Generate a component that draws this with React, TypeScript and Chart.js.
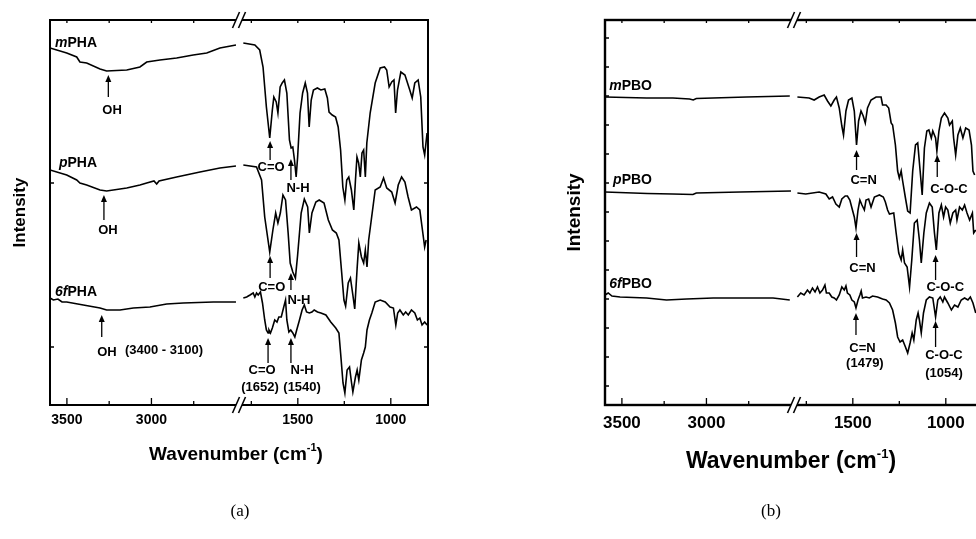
import React, { useEffect, useRef } from "react";
import { Chart, LineController, LineElement, PointElement, LinearScale } from "chart.js";

type Pt = [number, number | null];

// ---------------- axis description (wavenumber, cm-1) ----------------
const W_LOW: [number, number] = [3600, 2500];   // left segment of the broken axis
const W_HIGH: [number, number] = [1800, 800];   // right segment of the broken axis
const SPLIT: [number, number] = [0.492, 0.508]; // share of the axis length where the break sits
const GAP: Pt = [2150, null];
const X_MAJOR = [3500, 3000, 1500, 1000];
const X_MINOR = [3250, 2750, 1750, 1250];
const A_Y_TICKS = [58, 222];
const B_Y_TICKS = [19, 48, 77, 106, 135, 164, 193, 222, 251, 280, 309, 338, 367];

// ---------------- panel (a): PHA spectra (intensity, a.u.) ----------------
const mPHA_LOW: Pt[] = [
  [3600, 357], [3501, 352], [3442, 348], [3423, 343], [3383, 342], [3304, 336], [3265, 334],
  [3146, 335], [3068, 338], [3028, 343], [2950, 345], [2851, 347], [2753, 350], [2673, 352],
  [2595, 357], [2500, 360],
];
const mPHA_HIGH: Pt[] = [
  [1793, 362], [1731, 360], [1705, 355], [1687, 338], [1669, 298], [1651, 267], [1637, 295],
  [1629, 308], [1616, 303], [1607, 292], [1595, 318], [1584, 322], [1572, 325], [1559, 312],
  [1545, 265], [1536, 257], [1527, 258], [1518, 245], [1509, 228], [1501, 248], [1488, 292],
  [1474, 312], [1460, 322], [1448, 312], [1439, 278], [1428, 305], [1416, 315], [1395, 317],
  [1376, 315], [1355, 316], [1341, 307], [1332, 293], [1315, 290], [1297, 288], [1283, 278],
  [1270, 255], [1258, 218], [1247, 205], [1237, 225], [1226, 228], [1212, 215], [1199, 195],
  [1190, 225], [1182, 248], [1173, 242], [1164, 228], [1155, 252], [1146, 255], [1137, 228],
  [1129, 262], [1111, 292], [1084, 322], [1057, 337], [1034, 338], [1022, 335], [1009, 318],
  [995, 323], [983, 325], [974, 292], [964, 315], [946, 333], [924, 330], [898, 315], [885, 307],
  [871, 322], [853, 325], [839, 308], [827, 258], [818, 250], [805, 272],
];
const pPHA_LOW: Pt[] = [
  [3600, 235], [3501, 230], [3442, 225], [3423, 222], [3383, 220], [3304, 215], [3265, 214],
  [3146, 217], [3068, 220], [3028, 222], [2985, 224], [2969, 221], [2955, 224], [2851, 228],
  [2713, 233], [2595, 237], [2500, 239],
];
const pPHA_HIGH: Pt[] = [
  [1793, 240], [1722, 238], [1695, 225], [1678, 188], [1651, 153], [1634, 175], [1619, 192],
  [1607, 182], [1594, 192], [1580, 210], [1566, 205], [1552, 172], [1541, 142], [1527, 133],
  [1513, 127], [1501, 150], [1482, 192], [1465, 206], [1447, 198], [1438, 172], [1424, 192],
  [1403, 203], [1385, 205], [1359, 202], [1336, 185], [1314, 175], [1293, 172], [1279, 165],
  [1264, 132], [1252, 105], [1243, 99], [1229, 122], [1217, 127], [1204, 110], [1194, 96],
  [1181, 137], [1172, 162], [1158, 148], [1146, 142], [1137, 155], [1128, 138], [1119, 165],
  [1105, 185], [1084, 215], [1057, 218], [1039, 227], [1022, 217], [995, 213], [977, 202],
  [960, 220], [942, 228], [924, 223], [907, 208], [889, 195], [862, 198], [844, 195], [832, 178],
  [818, 158], [810, 165],
];
const f6PHA_LOW: Pt[] = [
  [3600, 107], [3580, 105], [3553, 106], [3529, 103], [3501, 103], [3403, 100], [3304, 97],
  [3265, 95], [3186, 95], [3107, 97], [3009, 98], [2910, 101], [2812, 102], [2634, 103], [2500, 103],
];
const f6PHA_HIGH: Pt[] = [
  [1793, 107], [1775, 108], [1757, 110], [1740, 112], [1731, 108], [1722, 112], [1713, 110],
  [1701, 113], [1690, 102], [1678, 85], [1669, 75], [1660, 72], [1655, 75], [1647, 72], [1637, 77],
  [1624, 85], [1612, 83], [1602, 88], [1589, 88], [1577, 97], [1566, 105], [1559, 85], [1548, 73],
  [1538, 75], [1527, 72], [1516, 68], [1506, 75], [1491, 85], [1477, 95], [1465, 100], [1453, 93],
  [1438, 92], [1424, 93], [1412, 95], [1394, 93], [1376, 92], [1349, 90], [1323, 83], [1296, 77],
  [1279, 72], [1270, 52], [1257, 22], [1247, 12], [1235, 35], [1222, 38], [1211, 22], [1204, 13],
  [1190, 28], [1181, 35], [1172, 25], [1158, 45], [1146, 52], [1137, 58], [1128, 75], [1115, 85],
  [1102, 92], [1084, 103], [1057, 105], [1030, 103], [1004, 98], [986, 97], [973, 80], [963, 92],
  [951, 95], [933, 90], [920, 93], [906, 90], [889, 95], [871, 92], [857, 85], [844, 87], [832, 80],
  [818, 83], [805, 80],
];

// ---------------- panel (b): PBO spectra (intensity, a.u.) ----------------
const mPBO_LOW: Pt[] = [
  [3600, 308], [3354, 307], [3198, 307], [3100, 306], [3078, 305], [3060, 306.5], [2763, 308], [2507, 309],
];
const mPBO_HIGH: Pt[] = [
  [1798, 308], [1735, 307], [1708, 305], [1681, 308], [1654, 310], [1636, 304], [1618, 299],
  [1600, 305], [1588, 308], [1573, 297], [1559, 279], [1550, 270], [1537, 294], [1523, 305],
  [1505, 307], [1492, 294], [1480, 260], [1469, 284], [1456, 294], [1444, 289], [1433, 282],
  [1421, 297], [1402, 305], [1375, 308], [1348, 308], [1340, 300], [1321, 300], [1307, 297],
  [1294, 282], [1286, 280], [1271, 260], [1259, 234], [1250, 227], [1240, 234], [1232, 224],
  [1217, 207], [1205, 194], [1192, 192], [1178, 234], [1163, 260], [1151, 262], [1138, 234],
  [1127, 210], [1115, 257], [1102, 274], [1091, 275], [1078, 267], [1070, 274], [1055, 267],
  [1048, 254], [1037, 274], [1024, 287], [1007, 292], [989, 287], [980, 280], [965, 284],
  [958, 267], [947, 250], [935, 270], [922, 277], [908, 267], [893, 277], [875, 275], [862, 260],
  [854, 234], [845, 230],
];
const pPBO_LOW: Pt[] = [
  [3600, 213], [3350, 211.5], [3200, 211], [3080, 210.5], [3060, 212], [2800, 213], [2500, 214],
];
const pPBO_HIGH: Pt[] = [
  [1798, 212], [1753, 211], [1681, 213], [1645, 211], [1627, 206], [1609, 208], [1591, 201],
  [1573, 198], [1559, 206], [1541, 209], [1529, 209], [1516, 205], [1502, 195], [1492, 188],
  [1483, 177], [1472, 195], [1462, 205], [1451, 200], [1438, 195], [1429, 205], [1415, 206],
  [1402, 198], [1384, 208], [1357, 210], [1336, 208], [1325, 203], [1313, 195], [1303, 191],
  [1280, 192], [1267, 172], [1253, 152], [1240, 145], [1232, 155], [1222, 142], [1208, 138],
  [1195, 118], [1183, 145], [1169, 182], [1154, 185], [1142, 165], [1132, 142], [1118, 172],
  [1105, 192], [1088, 202], [1073, 198], [1061, 172], [1051, 155], [1037, 192], [1024, 200],
  [1012, 188], [1001, 198], [989, 195], [976, 182], [962, 192], [947, 195], [940, 185], [926, 198],
  [911, 195], [899, 200], [886, 192], [872, 185], [857, 192], [850, 172], [839, 175],
];
const f6PBO_LOW: Pt[] = [
  [3600, 110], [3581, 112], [3559, 109], [3511, 108], [3354, 107], [3236, 105], [3117, 106],
  [2960, 107], [2763, 107], [2606, 107], [2507, 105],
];
const f6PBO_HIGH: Pt[] = [
  [1798, 108], [1780, 112], [1762, 110], [1744, 115], [1731, 112], [1717, 117], [1703, 113],
  [1690, 118], [1677, 112], [1663, 115], [1650, 120], [1642, 112], [1627, 112], [1613, 108],
  [1600, 107], [1588, 105], [1573, 110], [1559, 118], [1546, 115], [1537, 119], [1529, 112],
  [1516, 110], [1505, 105], [1492, 103], [1483, 97], [1472, 105], [1462, 110], [1455, 114],
  [1448, 107], [1429, 108], [1411, 107], [1394, 109], [1367, 108], [1340, 106], [1321, 105],
  [1303, 102], [1286, 95], [1271, 82], [1259, 68], [1246, 63], [1232, 65], [1217, 58], [1205, 52],
  [1192, 62], [1181, 72], [1172, 65], [1159, 85], [1149, 92], [1142, 85], [1132, 72], [1120, 92],
  [1105, 105], [1088, 108], [1070, 107], [1055, 88], [1043, 105], [1030, 108], [1016, 103],
  [1007, 108], [989, 102], [970, 95], [953, 100], [935, 98], [917, 105], [899, 107], [881, 105],
  [868, 108], [854, 102], [839, 92],
];

// ---------------- annotations ----------------
type Arrow = { w: number; from: number; to: number };
type Note = { text: string; w: number; v: number };
type Label = { parts: [string, boolean][]; v: number };

const A_LABELS: Label[] = [
  { parts: [["m", true], ["PHA", false]], v: 362 },
  { parts: [["p", true], ["PHA", false]], v: 242 },
  { parts: [["6f", true], ["PHA", false]], v: 113 },
];
const A_ARROWS: Arrow[] = [
  { w: 3255, from: 308, to: 330 }, { w: 3281, from: 185, to: 210 }, { w: 3294, from: 68, to: 90 },
  { w: 1649, from: 245, to: 264 }, { w: 1537, from: 225, to: 246 },
  { w: 1649, from: 127, to: 149 }, { w: 1537, from: 115, to: 132 },
  { w: 1660, from: 42, to: 67 }, { w: 1537, from: 42, to: 67 },
];
const A_NOTES: Note[] = [
  { text: "OH", w: 3233, v: 295 }, { text: "OH", w: 3257, v: 175 }, { text: "OH", w: 3263, v: 53 },
  { text: "(3400 - 3100)", w: 2926, v: 55 },
  { text: "C=O", w: 1644, v: 238 }, { text: "N-H", w: 1499, v: 217 },
  { text: "C=O", w: 1640, v: 118 }, { text: "N-H", w: 1494, v: 105 },
  { text: "C=O", w: 1692, v: 35 }, { text: "(1652)", w: 1703, v: 18 },
  { text: "N-H", w: 1477, v: 35 }, { text: "(1540)", w: 1477, v: 18 },
];
const B_LABELS: Label[] = [
  { parts: [["m", true], ["PBO", false]], v: 319 },
  { parts: [["p", true], ["PBO", false]], v: 225 },
  { parts: [["6f", true], ["PBO", false]], v: 121 },
];
const B_ARROWS: Arrow[] = [
  { w: 1480, from: 235, to: 255 }, { w: 1046, from: 228, to: 250 },
  { w: 1480, from: 148, to: 172 }, { w: 1055, from: 125, to: 150 },
  { w: 1483, from: 70, to: 92 }, { w: 1055, from: 58, to: 84 },
];
const B_NOTES: Note[] = [
  { text: "C=N", w: 1442, v: 225 }, { text: "C-O-C", w: 983, v: 216 },
  { text: "C=N", w: 1448, v: 137 }, { text: "C-O-C", w: 1003, v: 118 },
  { text: "C=N", w: 1448, v: 57 }, { text: "(1479)", w: 1435, v: 42 },
  { text: "C-O-C", w: 1010, v: 50 }, { text: "(1054)", w: 1010, v: 32 },
];
const LABEL_W = 3322; // right edge of the series names

// ---------------- broken wavenumber scale ----------------
class BrokenWavenumberScale extends LinearScale {
  static id = "brokenWavenumber";
  static defaults = {};
  getPixelForValue(value: number) {
    const v = Number(value);
    let d: number;
    if (v >= W_LOW[1]) d = ((W_LOW[0] - v) / (W_LOW[0] - W_LOW[1])) * SPLIT[0];
    else if (v <= W_HIGH[0]) d = SPLIT[1] + ((W_HIGH[0] - v) / (W_HIGH[0] - W_HIGH[1])) * (1 - SPLIT[1]);
    else d = SPLIT[0] + ((W_LOW[1] - v) / (W_LOW[1] - W_HIGH[0])) * (SPLIT[1] - SPLIT[0]);
    return (this as any).getPixelForDecimal(d);
  }
  getValueForPixel(pixel: number) {
    const d = (this as any).getDecimalForPixel(pixel);
    if (d <= SPLIT[0]) return W_LOW[0] - (d / SPLIT[0]) * (W_LOW[0] - W_LOW[1]);
    if (d >= SPLIT[1]) return W_HIGH[0] - ((d - SPLIT[1]) / (1 - SPLIT[1])) * (W_HIGH[0] - W_HIGH[1]);
    return W_LOW[1] - ((d - SPLIT[0]) / (SPLIT[1] - SPLIT[0])) * (W_LOW[1] - W_HIGH[0]);
  }
}

Chart.register(LineController, LineElement, PointElement, LinearScale, BrokenWavenumberScale);

const FAMILY = '"Liberation Sans", Arial, sans-serif';

type PanelCfg = {
  series: Pt[][];
  labels: Label[];
  arrows: Arrow[];
  notes: Note[];
  yTicks: number[];
  canvasLeft: number;
  canvasWidth: number;
  padding: { left: number; top: number; right: number; bottom: number };
  tickFont: number;
  tickY: number;
  titleFont: number;
  titleY: number;
  yTitleFont: number;
  yTitleX: number;
  letter: string;
  letterX: number;
  noteFont: number;
  labelFont: number;
  frameWidth: number;
  lineWidth: number;
};

function drawArrow(ctx: CanvasRenderingContext2D, x: number, yFrom: number, yTo: number) {
  const head = 7;
  ctx.beginPath();
  ctx.lineWidth = 1.3;
  ctx.moveTo(x, yFrom);
  ctx.lineTo(x, yTo + head - 1);
  ctx.stroke();
  ctx.beginPath();
  ctx.moveTo(x, yTo);
  ctx.lineTo(x - 3, yTo + head);
  ctx.lineTo(x + 3, yTo + head);
  ctx.closePath();
  ctx.fill();
}

function makeDecor(cfg: PanelCfg) {
  return {
    id: "ftirDecor",
    afterDraw(chart: any) {
      const ctx: CanvasRenderingContext2D = chart.ctx;
      const xs = chart.scales.x;
      const ys = chart.scales.y;
      const { left, right, top, bottom } = chart.chartArea;
      ctx.save();
      ctx.strokeStyle = "#000";
      ctx.fillStyle = "#000";

      // frame
      ctx.lineWidth = cfg.frameWidth;
      ctx.strokeRect(left, top, right - left, bottom - top);

      // x ticks (inward)
      ctx.lineWidth = 1.3;
      const tick = (w: number, lenB: number, lenT: number) => {
        const x = xs.getPixelForValue(w);
        ctx.beginPath();
        ctx.moveTo(x, bottom);
        ctx.lineTo(x, bottom - lenB);
        ctx.moveTo(x, top);
        ctx.lineTo(x, top + lenT);
        ctx.stroke();
      };
      X_MAJOR.forEach((w) => tick(w, 7, 3));
      X_MINOR.forEach((w) => tick(w, 4, 3));
      // y ticks (inward)
      cfg.yTicks.forEach((v) => {
        const y = ys.getPixelForValue(v);
        ctx.beginPath();
        ctx.moveTo(left, y);
        ctx.lineTo(left + 4, y);
        ctx.moveTo(right, y);
        ctx.lineTo(right - 4, y);
        ctx.stroke();
      });

      // axis break marks
      const bx = xs.getPixelForValue(GAP[0]);
      [top, bottom].forEach((y) => {
        ctx.fillStyle = "#fff";
        ctx.fillRect(bx - 3, y - 2, 6, 4);
        ctx.fillStyle = "#000";
        ctx.lineWidth = 1.6;
        [-3, 3].forEach((o) => {
          ctx.beginPath();
          ctx.moveTo(bx + o - 3.5, y + 8);
          ctx.lineTo(bx + o + 3.5, y - 8);
          ctx.stroke();
        });
      });

      // tick labels
      ctx.font = `bold ${cfg.tickFont}px ${FAMILY}`;
      ctx.textAlign = "center";
      ctx.textBaseline = "middle";
      X_MAJOR.forEach((w) => ctx.fillText(String(w), xs.getPixelForValue(w), cfg.tickY));

      // x title with superscript
      const cx = (left + right) / 2 - 3;
      const f = `bold ${cfg.titleFont}px ${FAMILY}`;
      const fs = `bold ${Math.round(cfg.titleFont * 0.58)}px ${FAMILY}`;
      ctx.font = f;
      const wa = ctx.measureText("Wavenumber (cm").width;
      const wb = ctx.measureText(")").width;
      ctx.font = fs;
      const ws = ctx.measureText("-1").width;
      let tx = cx - (wa + ws + wb) / 2;
      ctx.textAlign = "left";
      ctx.textBaseline = "alphabetic";
      const base = cfg.titleY + cfg.titleFont * 0.36;
      ctx.font = f;
      ctx.fillText("Wavenumber (cm", tx, base);
      tx += wa;
      ctx.font = fs;
      ctx.fillText("-1", tx, base - cfg.titleFont * 0.45);
      tx += ws;
      ctx.font = f;
      ctx.fillText(")", tx, base);

      // y title
      ctx.save();
      ctx.translate(cfg.yTitleX, (top + bottom) / 2);
      ctx.rotate(-Math.PI / 2);
      ctx.font = `bold ${cfg.yTitleFont}px ${FAMILY}`;
      ctx.textAlign = "center";
      ctx.textBaseline = "middle";
      ctx.fillText("Intensity", 0, 0);
      ctx.restore();

      // panel letter
      ctx.font = `17px "Liberation Serif", "Times New Roman", serif`;
      ctx.textAlign = "center";
      ctx.textBaseline = "middle";
      ctx.fillText(cfg.letter, cfg.letterX, 512);

      // series names
      const lx = xs.getPixelForValue(LABEL_W);
      cfg.labels.forEach((lab) => {
        const y = ys.getPixelForValue(lab.v);
        const fontOf = (it: boolean) => `${it ? "italic " : ""}bold ${cfg.labelFont}px ${FAMILY}`;
        let total = 0;
        lab.parts.forEach(([t, it]) => {
          ctx.font = fontOf(it);
          total += ctx.measureText(t).width;
        });
        let x = lx - total;
        ctx.textAlign = "left";
        ctx.textBaseline = "middle";
        lab.parts.forEach(([t, it]) => {
          ctx.font = fontOf(it);
          ctx.fillText(t, x, y);
          x += ctx.measureText(t).width;
        });
      });

      // arrows and notes
      cfg.arrows.forEach((a) => drawArrow(ctx, xs.getPixelForValue(a.w), ys.getPixelForValue(a.from), ys.getPixelForValue(a.to)));
      ctx.font = `bold ${cfg.noteFont}px ${FAMILY}`;
      ctx.textAlign = "center";
      ctx.textBaseline = "middle";
      cfg.notes.forEach((n) => ctx.fillText(n.text, xs.getPixelForValue(n.w), ys.getPixelForValue(n.v)));

      ctx.restore();
    },
  };
}

function Panel({ cfg }: { cfg: PanelCfg }) {
  const ref = useRef<HTMLCanvasElement>(null);
  useEffect(() => {
    const chart = new Chart(ref.current as HTMLCanvasElement, {
      type: "line",
      data: {
        datasets: cfg.series.map((s) => ({
          data: s.map(([x, y]) => ({ x, y })),
          borderColor: "#000",
          borderWidth: cfg.lineWidth,
          pointRadius: 0,
          tension: 0,
          fill: false,
          spanGaps: false,
        })),
      },
      options: {
        responsive: false,
        animation: false,
        events: [],
        layout: { autoPadding: false, padding: cfg.padding },
        plugins: { legend: { display: false }, tooltip: { enabled: false } },
        scales: {
          x: { type: "brokenWavenumber", min: W_HIGH[1], max: W_LOW[0], display: false },
          y: { type: "linear", min: 0, max: 385, display: false },
        },
      } as any,
      plugins: [makeDecor(cfg)],
    } as any);
    return () => chart.destroy();
  }, []);
  return (
    <canvas
      ref={ref}
      width={cfg.canvasWidth}
      height={539}
      style={{ position: "absolute", left: cfg.canvasLeft, top: 0, width: cfg.canvasWidth, height: 539 }}
    />
  );
}

const PANEL_A: PanelCfg = {
  series: [
    [...mPHA_LOW, GAP, ...mPHA_HIGH],
    [...pPHA_LOW, GAP, ...pPHA_HIGH],
    [...f6PHA_LOW, GAP, ...f6PHA_HIGH],
  ],
  labels: A_LABELS,
  arrows: A_ARROWS,
  notes: A_NOTES,
  yTicks: A_Y_TICKS,
  canvasLeft: 0,
  canvasWidth: 480,
  padding: { left: 50, top: 20, right: 52, bottom: 134 },
  tickFont: 14,
  tickY: 420,
  titleFont: 19,
  titleY: 453,
  yTitleFont: 17,
  yTitleX: 20,
  letter: "(a)",
  letterX: 240,
  noteFont: 13,
  labelFont: 14,
  frameWidth: 2,
  lineWidth: 1.6,
};

const PANEL_B: PanelCfg = {
  series: [
    [...mPBO_LOW, GAP, ...mPBO_HIGH],
    [...pPBO_LOW, GAP, ...pPBO_HIGH],
    [...f6PBO_LOW, GAP, ...f6PBO_HIGH],
  ],
  labels: B_LABELS,
  arrows: B_ARROWS,
  notes: B_NOTES,
  yTicks: B_Y_TICKS,
  canvasLeft: 480,
  canvasWidth: 520,
  padding: { left: 125, top: 20, right: 17, bottom: 134 },
  tickFont: 17,
  tickY: 423,
  titleFont: 23,
  titleY: 460,
  yTitleFont: 19,
  yTitleX: 95,
  letter: "(b)",
  letterX: 291,
  noteFont: 13,
  labelFont: 14,
  frameWidth: 2.4,
  lineWidth: 1.6,
};

export default function App() {
  return (
    <div
      style={{
        position: "fixed",
        left: 0,
        top: 0,
        width: 976,
        height: 539,
        overflow: "hidden",
        background: "#fff",
      }}
    >
      <Panel cfg={PANEL_A} />
      <Panel cfg={PANEL_B} />
    </div>
  );
}
